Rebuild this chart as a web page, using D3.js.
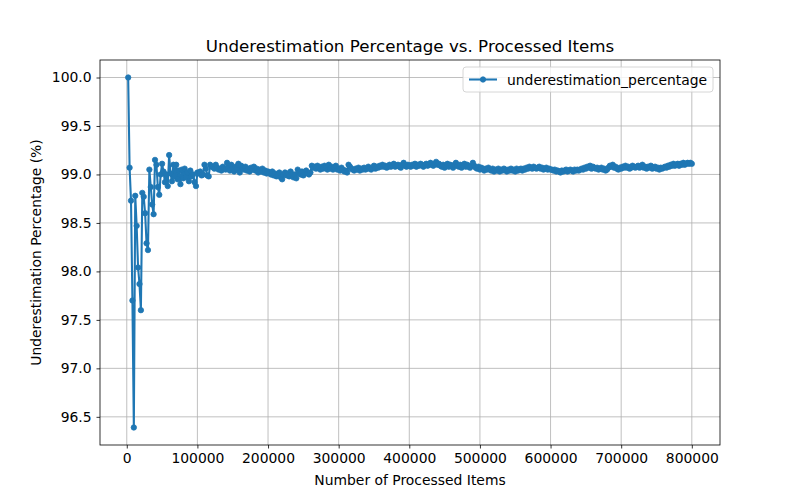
<!DOCTYPE html>
<html><head><meta charset="utf-8">
<script src="https://cdn.jsdelivr.net/npm/d3@7"></script>
<style>body{margin:0;background:#fff}svg{font-family:"DejaVu Sans",sans-serif}</style>
</head><body><svg id="c" width="800" height="500"></svg>
<script>
const seriesName = "underestimation_percentage";
const xStart = 2000, xStep = 2000; // processed-items sampling interval
const values = [
100.0,99.07,98.73,97.70,96.39,98.78,98.47,98.04,97.87,97.60,98.81,98.77,98.60,98.29,98.22,99.05,98.87,98.69,98.59,99.15,
99.10,98.87,98.79,99.00,99.11,99.03,98.92,99.00,98.88,99.20,99.01,98.93,99.10,98.98,99.10,98.95,99.04,98.90,99.05,98.96,
99.06,98.97,99.02,98.93,99.04,98.98,99.00,98.92,98.88,99.02,99.01,99.03,98.99,99.00,99.10,99.06,98.99,98.98,99.10,99.08,
99.08,99.06,99.10,99.07,99.05,99.06,99.04,99.08,99.06,99.05,99.12,99.07,99.04,99.10,99.06,99.03,99.08,99.05,99.11,99.02,
99.09,99.07,99.05,99.08,99.04,99.06,99.03,99.07,99.05,99.08,99.04,99.06,99.02,99.05,99.03,99.06,99.02,99.04,99.01,99.03,
99.02,99.00,99.03,98.99,99.01,98.98,99.00,99.02,98.97,98.95,99.00,99.02,98.99,99.01,98.98,99.03,99.00,98.97,99.00,98.96,
99.05,99.02,99.00,99.03,98.99,99.02,99.04,99.01,99.00,99.02,99.09,99.07,99.08,99.06,99.09,99.07,99.05,99.08,99.06,99.09,
99.07,99.05,99.10,99.06,99.08,99.05,99.07,99.09,99.05,99.06,99.04,99.07,99.05,99.03,99.04,99.02,99.10,99.08,99.06,99.05,
99.04,99.06,99.05,99.07,99.04,99.06,99.05,99.07,99.05,99.06,99.08,99.06,99.05,99.07,99.09,99.06,99.08,99.07,99.09,99.08,
99.10,99.08,99.09,99.07,99.08,99.10,99.08,99.09,99.11,99.08,99.09,99.10,99.08,99.07,99.10,99.12,99.09,99.08,99.10,99.09,
99.08,99.10,99.09,99.11,99.08,99.10,99.09,99.11,99.10,99.08,99.10,99.11,99.09,99.10,99.12,99.10,99.09,99.11,99.13,99.10,
99.11,99.09,99.08,99.10,99.07,99.09,99.11,99.08,99.10,99.09,99.07,99.10,99.12,99.09,99.08,99.10,99.07,99.09,99.11,99.08,
99.10,99.08,99.07,99.09,99.12,99.09,99.07,99.06,99.08,99.05,99.07,99.06,99.04,99.06,99.05,99.07,99.05,99.04,99.06,99.03,
99.05,99.04,99.06,99.03,99.05,99.04,99.06,99.05,99.03,99.05,99.04,99.06,99.04,99.05,99.03,99.06,99.04,99.05,99.06,99.04,
99.06,99.05,99.07,99.06,99.08,99.07,99.06,99.08,99.07,99.06,99.07,99.08,99.06,99.07,99.05,99.06,99.07,99.05,99.06,99.05,
99.05,99.04,99.05,99.03,99.04,99.03,99.02,99.04,99.03,99.04,99.05,99.03,99.04,99.05,99.04,99.03,99.05,99.04,99.05,99.04,
99.05,99.06,99.05,99.07,99.06,99.08,99.07,99.09,99.06,99.08,99.07,99.06,99.07,99.05,99.06,99.07,99.05,99.06,99.04,99.05,
99.07,99.09,99.08,99.10,99.07,99.08,99.06,99.05,99.07,99.06,99.08,99.07,99.09,99.07,99.08,99.06,99.07,99.09,99.08,99.07,
99.08,99.09,99.07,99.08,99.10,99.07,99.08,99.06,99.08,99.07,99.09,99.06,99.07,99.08,99.06,99.07,99.05,99.07,99.06,99.07,
99.08,99.07,99.09,99.08,99.10,99.09,99.11,99.09,99.10,99.11,99.09,99.11,99.10,99.12,99.10,99.11,99.12,99.11,99.12,99.11
];
const xTicks = [0,100000,200000,300000,400000,500000,600000,700000,800000];
const yTicks = [96.5,97.0,97.5,98.0,98.5,99.0,99.5,100.0];
const title = "Underestimation Percentage vs. Processed Items";
const xLabel = "Number of Processed Items";
const yLabel = "Underestimation Percentage (%)";

const data = values.map((v,i)=>({x: xStart + i*xStep, y: v}));
const W=800,H=500, L=100,R=720,T=60,B=445;
const color="#1f77b4";
const svg=d3.select("#c");
const [x0,x1]=d3.extent(data,d=>d.x), [y0,y1]=d3.extent(data,d=>d.y);
const px=(x1-x0)*0.05, py=(y1-y0)*0.05;
const x=d3.scaleLinear().domain([x0-px,x1+px]).range([L,R]);
const y=d3.scaleLinear().domain([y0-py,y1+py]).range([B,T]);

// grid
const g=svg.append("g");
g.selectAll(".gx").data(xTicks).join("line").attr("x1",d=>x(d)).attr("x2",d=>x(d)).attr("y1",T).attr("y2",B).attr("stroke","#b0b0b0").attr("stroke-width",0.8);
g.selectAll(".gy").data(yTicks).join("line").attr("y1",d=>y(d)).attr("y2",d=>y(d)).attr("x1",L).attr("x2",R).attr("stroke","#b0b0b0").attr("stroke-width",0.8);

// line + markers
svg.append("clipPath").attr("id","cl").append("rect").attr("x",L).attr("y",T).attr("width",R-L).attr("height",B-T);
const plot=svg.append("g").attr("clip-path","url(#cl)");
plot.append("path").datum(data).attr("fill","none").attr("stroke",color).attr("stroke-width",2.08).attr("stroke-linejoin","round").attr("stroke-linecap","square")
  .attr("d",d3.line().x(d=>x(d.x)).y(d=>y(d.y)));
plot.selectAll("circle").data(data).join("circle").attr("cx",d=>x(d.x)).attr("cy",d=>y(d.y)).attr("r",2.7).attr("fill",color).attr("stroke",color).attr("stroke-width",0.8);

// axes
const xa=svg.append("g").attr("transform",`translate(0,${B})`).call(d3.axisBottom(x).tickValues(xTicks).tickFormat(d3.format("d")).tickSize(3.5).tickPadding(4.9));
const ya=svg.append("g").attr("transform",`translate(${L},0)`).call(d3.axisLeft(y).tickValues(yTicks).tickFormat(d3.format(".1f")).tickSize(3.5).tickPadding(4.9));
[xa,ya].forEach(a=>{a.select(".domain").remove();a.selectAll("text").attr("font-size","13.9px").attr("fill","#000").attr("font-family","DejaVu Sans");a.selectAll("line").attr("stroke","#000").attr("stroke-width",0.8);});
svg.append("rect").attr("x",L).attr("y",T).attr("width",R-L).attr("height",B-T).attr("fill","none").attr("stroke","#000").attr("stroke-width",0.8);

// labels
svg.append("text").attr("x",(L+R)/2).attr("y",T-8).attr("text-anchor","middle").attr("font-size","16.7px").text(title);
svg.append("text").attr("x",(L+R)/2).attr("y",485).attr("text-anchor","middle").attr("font-size","13.9px").text(xLabel);
svg.append("text").attr("transform",`translate(41,${(T+B)/2}) rotate(-90)`).attr("text-anchor","middle").attr("font-size","13.9px").text(yLabel);

// legend
const lg=svg.append("g");
lg.append("rect").attr("x",463).attr("y",67).attr("width",250).attr("height",25).attr("rx",3).attr("fill","#fff").attr("fill-opacity",0.8).attr("stroke","#cccccc").attr("stroke-width",0.8);
lg.append("line").attr("x1",469).attr("x2",497).attr("y1",79.5).attr("y2",79.5).attr("stroke",color).attr("stroke-width",2.08);
lg.append("circle").attr("cx",483).attr("cy",79.5).attr("r",2.7).attr("fill",color).attr("stroke",color).attr("stroke-width",0.8);
lg.append("text").attr("x",507).attr("y",84.5).attr("font-size","13.9px").text(seriesName);
</script></body></html>
